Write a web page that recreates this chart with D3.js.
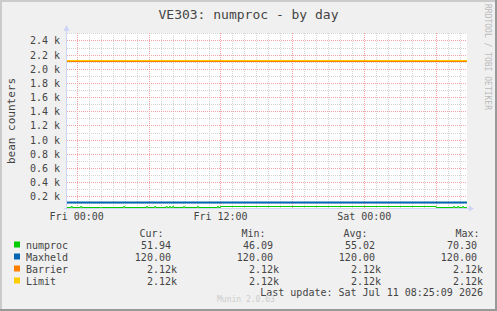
<!DOCTYPE html>
<html>
<head>
<meta charset="utf-8">
<script src="https://cdn.jsdelivr.net/npm/d3@7"></script>
<style>
    html, body { margin: 0; padding: 0; background: #f0f0f0; }
    svg { display: block; }
    text { font-family: 'DejaVu Sans Mono', monospace; }
</style>
</head>
<body>
<div id="chart"></div>
<script>
(function() {
    'use strict';

    // time span of the graph
    var timeDomain = ['2026-07-09 23:11:26', '2026-07-11 08:34:14'];

    // numproc, step values
    var numprocTimes = [
        '2026-07-09 23:11:26', '2026-07-09 23:33:00', '2026-07-09 23:38:00',
        '2026-07-10 00:20:00', '2026-07-10 00:25:00', '2026-07-10 02:00:00',
        '2026-07-10 02:05:00', '2026-07-10 03:55:00', '2026-07-10 04:00:00',
        '2026-07-10 05:50:00', '2026-07-10 05:55:00', '2026-07-10 06:30:00',
        '2026-07-10 06:35:00', '2026-07-10 07:28:00', '2026-07-10 07:33:00',
        '2026-07-10 07:45:00', '2026-07-10 07:50:00', '2026-07-10 08:00:00',
        '2026-07-10 08:05:00', '2026-07-10 08:55:00', '2026-07-10 09:00:00',
        '2026-07-10 10:05:00', '2026-07-10 10:10:00', '2026-07-10 11:45:00',
        '2026-07-10 11:50:00', '2026-07-10 12:00:00', '2026-07-11 06:00:00',
        '2026-07-11 07:27:00', '2026-07-11 07:32:00', '2026-07-11 07:47:00',
        '2026-07-11 07:52:00', '2026-07-11 08:12:00', '2026-07-11 08:17:00',
        '2026-07-11 08:25:00', '2026-07-11 08:34:14'
    ];
    var numprocValues = [
        48, 62, 48,
        64, 48, 46.09,
        48, 60, 48,
        66, 48, 63,
        48, 60, 48,
        62, 48, 61,
        48, 63, 48,
        65, 48, 60,
        48, 59, 49,
        70.3, 50, 62,
        50, 64, 50,
        51.94, 51.94
    ];

    // constant series
    var maxheldValues = [120, 120];
    var barrierValues = [2115, 2115];
    var limitValues = [2128, 2128];

    var seriesNames = ['numproc', 'Maxheld', 'Barrier', 'Limit'];
    var seriesColors = ['#00cc00', '#0066b3', '#ff8000', '#ffcc00'];

    // legend columns
    var legendHeaders = ['Cur:', 'Min:', 'Avg:', 'Max:'];
    var legendCur = [51.94, 120, 2120, 2120];
    var legendMin = [46.09, 120, 2120, 2120];
    var legendAvg = [55.02, 120, 2120, 2120];
    var legendMax = [70.30, 120, 2120, 2120];

    var yDomain = [36, 2505];
    var yMajorStep = 200;
    var yMinorStep = 100;

    var opts = {
        width: 497,
        height: 311,
        plot: { left: 67, right: 467, top: 33, bottom: 208 },
        axisColor: '#cdd4f5',
        majorColor: '#f3a3a3',
        minorColor: '#d4d4d4',
        textColor: '#444'
    };

    var parse = d3.timeParse('%Y-%m-%d %H:%M:%S');
    var p = opts.plot;

    var x = d3.scaleTime()
        .domain(timeDomain.map(parse))
        .range([p.left, p.right]);

    var y = d3.scaleLinear()
        .domain(yDomain)
        .range([p.bottom, p.top]);

    var svg = d3.select('#chart')
        .append('svg')
        .attr('width', opts.width)
        .attr('height', opts.height);

    /**
     * Fond + cadre 3D facon rrdtool
     */
    function _drawFrame() {
        svg.append('rect')
            .attr('width', opts.width)
            .attr('height', opts.height)
            .attr('fill', '#f0f0f0');

        svg.append('path')
            .attr('d', 'M1,' + opts.height + 'V1H' + opts.width)
            .attr('fill', 'none')
            .attr('stroke', '#cbcbcb')
            .attr('stroke-width', 2);

        svg.append('path')
            .attr('d', 'M0,' + (opts.height - 1) + 'H' + (opts.width - 1) + 'V0')
            .attr('fill', 'none')
            .attr('stroke', '#999')
            .attr('stroke-width', 2);

        svg.append('rect')
            .attr('x', p.left)
            .attr('y', p.top)
            .attr('width', p.right - p.left)
            .attr('height', p.bottom - p.top)
            .attr('fill', '#fff');
    }

    /**
     * Grille mineure puis majeure
     */
    function _drawGrid() {
        var grid = svg.append('g').attr('class', 'grid');
        var t0 = x.domain()[0], t1 = x.domain()[1];

        var yMinor = d3.range(yMinorStep, yDomain[1], yMinorStep)
            .filter(function(v) { return v % yMajorStep !== 0 && v > yDomain[0]; });
        var yMajor = d3.range(yMajorStep, yDomain[1], yMajorStep);
        var xMinor = d3.timeHour.range(t0, t1)
            .filter(function(d) { return d.getHours() % 6 !== 0; });
        var xMajor = d3.timeHour.every(6).range(t0, t1);

        function hline(sel, vals, color) {
            sel.selectAll(null)
                .data(vals)
                .enter().append('line')
                .attr('x1', p.left)
                .attr('x2', p.right)
                .attr('y1', function(d) { return Math.round(y(d)) + 0.5; })
                .attr('y2', function(d) { return Math.round(y(d)) + 0.5; })
                .attr('stroke', color)
                .attr('stroke-dasharray', '1,1');
        }

        function vline(sel, vals, color) {
            sel.selectAll(null)
                .data(vals)
                .enter().append('line')
                .attr('x1', function(d) { return Math.round(x(d)) + 0.5; })
                .attr('x2', function(d) { return Math.round(x(d)) + 0.5; })
                .attr('y1', p.top)
                .attr('y2', p.bottom)
                .attr('stroke', color)
                .attr('stroke-dasharray', '1,1');
        }

        hline(grid, yMinor, opts.minorColor);
        vline(grid, xMinor, opts.minorColor);
        hline(grid, yMajor, opts.majorColor);
        vline(grid, xMajor, opts.majorColor);

        // tick labels
        svg.append('g')
            .selectAll('text')
            .data(yMajor)
            .enter().append('text')
            .attr('x', p.left - 7)
            .attr('y', function(d) { return Math.round(y(d)) + 4; })
            .attr('text-anchor', 'end')
            .style('font-size', '10px')
            .attr('fill', opts.textColor)
            .text(function(d) { return (d / 1000).toFixed(1) + ' k'; });

        var fmt = d3.timeFormat('%a %H:%M');
        svg.append('g')
            .selectAll('text')
            .data(d3.timeHour.every(12).range(t0, t1))
            .enter().append('text')
            .attr('x', function(d) { return x(d); })
            .attr('y', p.bottom + 12)
            .attr('text-anchor', 'middle')
            .style('font-size', '10px')
            .attr('fill', opts.textColor)
            .text(fmt);
    }

    /**
     * Axes avec fleches
     */
    function _drawAxes() {
        var a = svg.append('g');
        a.append('line')
            .attr('x1', p.left - 0.5).attr('x2', p.left - 0.5)
            .attr('y1', p.bottom + 2).attr('y2', p.top - 4)
            .attr('stroke', opts.axisColor);
        a.append('line')
            .attr('x1', p.left - 3).attr('x2', p.right + 3)
            .attr('y1', p.bottom + 0.5).attr('y2', p.bottom + 0.5)
            .attr('stroke', opts.axisColor);
        a.append('path')
            .attr('d', 'M' + (p.left - 3.5) + ',' + (p.top - 2) + 'L' + (p.left + 2.5) + ',' + (p.top - 2) + 'L' + (p.left - 0.5) + ',' + (p.top - 8) + 'Z')
            .attr('fill', opts.axisColor);
        a.append('path')
            .attr('d', 'M' + (p.right + 2) + ',' + (p.bottom - 2.5) + 'L' + (p.right + 2) + ',' + (p.bottom + 3.5) + 'L' + (p.right + 7) + ',' + (p.bottom + 0.5) + 'Z')
            .attr('fill', opts.axisColor);
    }

    /**
     * Les courbes
     */
    function _drawSeries() {
        svg.append('clipPath')
            .attr('id', 'plotclip')
            .append('rect')
            .attr('x', p.left)
            .attr('y', p.top)
            .attr('width', p.right - p.left)
            .attr('height', p.bottom - p.top + 1);

        var g = svg.append('g').attr('clip-path', 'url(#plotclip)');
        var span = x.domain();

        function pairs(times, values) {
            return times.map(function(t, i) { return [t, values[i]]; });
        }

        var series = [
            { data: pairs(span, barrierValues), color: seriesColors[2], w: 1 },
            { data: pairs(span, limitValues), color: seriesColors[3], w: 1 },
            { data: pairs(span, maxheldValues), color: seriesColors[1], w: 2 },
            { data: pairs(numprocTimes.map(parse), numprocValues), color: seriesColors[0], w: 1 }
        ];

        var line = d3.line()
            .curve(d3.curveStepAfter)
            .x(function(d) { return x(d[0]); })
            .y(function(d) { return Math.round(y(d[1])) + 0.5; });

        g.selectAll('path')
            .data(series)
            .enter().append('path')
            .attr('d', function(d) { return line(d.data); })
            .attr('fill', 'none')
            .attr('stroke', function(d) { return d.color; })
            .attr('stroke-width', function(d) { return d.w; });
    }

    function _fmtValue(v) {
        return v >= 1000 ? (v / 1000).toFixed(2) + 'k' : v.toFixed(2) + ' ';
    }

    /**
     * Titre, labels, legende
     */
    function _drawTexts() {
        svg.append('text')
            .attr('x', opts.width / 2)
            .attr('y', 19)
            .attr('text-anchor', 'middle')
            .style('font-size', '13px')
            .attr('fill', '#444')
            .text('VE303: numproc - by day');

        svg.append('text')
            .attr('transform', 'translate(14.5,121) rotate(-90)')
            .attr('text-anchor', 'middle')
            .style('font-size', '11px')
            .attr('fill', opts.textColor)
            .text('bean counters');

        svg.append('text')
            .attr('transform', 'translate(484.5,4) rotate(90)')
            .style('font-size', '8px')
            .attr('fill', '#bbb')
            .text('RRDTOOL / TOBI OETIKER');

        var headerX = [163.5, 265.5, 367.5, 479.5];
        var colX = [177, 279, 381, 483];
        var rowY = [248.5, 260.5, 272.5, 284.5];
        var cols = [legendCur, legendMin, legendAvg, legendMax];

        var leg = svg.append('g')
            .style('font-size', '10px')
            .attr('fill', opts.textColor);

        leg.selectAll('.hdr')
            .data(legendHeaders)
            .enter().append('text')
            .attr('class', 'hdr')
            .attr('x', function(d, i) { return headerX[i]; })
            .attr('y', 236.5)
            .attr('text-anchor', 'end')
            .text(function(d) { return d; });

        var rows = leg.selectAll('.row')
            .data(seriesNames)
            .enter().append('g')
            .attr('class', 'row')
            .attr('transform', function(d, i) { return 'translate(0,' + rowY[i] + ')'; });

        rows.append('rect')
            .attr('x', 14)
            .attr('y', -7)
            .attr('width', 6)
            .attr('height', 6)
            .attr('fill', function(d, i) { return seriesColors[i]; });

        rows.append('text')
            .attr('x', 26)
            .text(function(d) { return d; });

        cols.forEach(function(col, c) {
            rows.append('text')
                .attr('x', colX[c])
                .attr('text-anchor', 'end')
                .attr('xml:space', 'preserve')
                .style('white-space', 'pre')
                .text(function(d, i) { return _fmtValue(col[i]); });
        });

        leg.append('text')
            .attr('x', 483)
            .attr('y', 296)
            .attr('text-anchor', 'end')
            .text('Last update: Sat Jul 11 08:25:09 2026');

        svg.append('text')
            .attr('x', 217)
            .attr('y', 302)
            .style('font-size', '8px')
            .attr('fill', '#ccc')
            .text('Munin 2.0.63');
    }

    _drawFrame();
    _drawGrid();
    _drawAxes();
    _drawSeries();
    _drawTexts();
})();
</script>
</body>
</html>
